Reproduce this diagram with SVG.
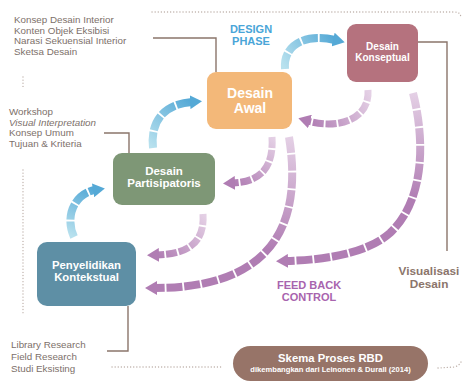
<svg xmlns="http://www.w3.org/2000/svg" width="463" height="381" viewBox="0 0 463 381">
<style>
text{font-family:"Liberation Sans",Arial,sans-serif}
.lst{font-size:9.8px;fill:#7d706a}
.nl{font-weight:bold;fill:#ffffff;text-anchor:middle}
.dot{fill:none;stroke:#bcaea7;stroke-width:1.3;stroke-dasharray:0.1 3;stroke-linecap:round}
.ln{fill:none;stroke:#8b756b;stroke-width:1.4}
.arr{fill:none;stroke-width:8;stroke-dasharray:16 1.8}
.arrt{fill:none;stroke-width:7;stroke-dasharray:11 1.8}
</style>
<defs>
<marker id="hb" viewBox="0 0 12 14" refX="2" refY="7" markerWidth="12" markerHeight="14" markerUnits="userSpaceOnUse" orient="auto"><path d="M0,0 L12,7 L0,14 Z" fill="#55a9d6"/></marker>
<marker id="hp" viewBox="0 0 12 14" refX="2" refY="7" markerWidth="12" markerHeight="14" markerUnits="userSpaceOnUse" orient="auto"><path d="M0,0 L12,7 L0,14 Z" fill="#b07db3"/></marker>
<linearGradient id="gb1" gradientUnits="userSpaceOnUse" x1="74" y1="237" x2="95" y2="190"><stop offset="0" stop-color="#b8e1ee"/><stop offset="1" stop-color="#55a9d6"/></linearGradient>
<linearGradient id="gb2" gradientUnits="userSpaceOnUse" x1="153" y1="148" x2="192" y2="102"><stop offset="0" stop-color="#b8e1ee"/><stop offset="1" stop-color="#55a9d6"/></linearGradient>
<linearGradient id="gb3" gradientUnits="userSpaceOnUse" x1="285" y1="69" x2="335" y2="40"><stop offset="0" stop-color="#b8e1ee"/><stop offset="1" stop-color="#55a9d6"/></linearGradient>
<linearGradient id="gpa" gradientUnits="userSpaceOnUse" x1="368" y1="90" x2="308" y2="121"><stop offset="0" stop-color="#e4d0e5"/><stop offset="1" stop-color="#b07db3"/></linearGradient>
<linearGradient id="gpb" gradientUnits="userSpaceOnUse" x1="272" y1="137" x2="233" y2="183"><stop offset="0" stop-color="#e4d0e5"/><stop offset="1" stop-color="#b07db3"/></linearGradient>
<linearGradient id="gpc" gradientUnits="userSpaceOnUse" x1="203" y1="214" x2="157" y2="255"><stop offset="0" stop-color="#e4d0e5"/><stop offset="1" stop-color="#b07db3"/></linearGradient>
<linearGradient id="gpd" gradientUnits="userSpaceOnUse" x1="289" y1="137" x2="270" y2="250"><stop offset="0" stop-color="#e4d0e5"/><stop offset="1" stop-color="#b07db3"/></linearGradient>
<linearGradient id="gpe" gradientUnits="userSpaceOnUse" x1="413" y1="93" x2="415" y2="200"><stop offset="0" stop-color="#e4d0e5"/><stop offset="1" stop-color="#b07db3"/></linearGradient>
</defs>
<rect width="463" height="381" fill="#ffffff"/>
<g id="frame">
<path class="dot" d="M152,12 L455,12 Q460,12 461,17"/>
<path class="dot" d="M112,367 L223,367"/>
<path class="dot" d="M438,368 L454,367 Q459,366 461,362"/>
<path class="dot" d="M23,77 L23,88"/>
<path class="dot" d="M23,170 L23,313"/>
</g>
<g id="connectors">
<path class="ln" d="M153,38 L216,38 L216,72"/>
<path class="ln" d="M104,133 L129,133 L129,153"/>
<path class="ln" d="M128,306 L128,351 L107,351"/>
<path class="ln" d="M418,42 L447,42 L447,251"/>
<path class="arr" stroke="url(#gb1)" marker-end="url(#hb)" d="M74,237 C64,215 76,193 95,190"/>
<path class="arr" stroke="url(#gb2)" marker-end="url(#hb)" d="M153,148 C150,120 165,104 192,102"/>
<path class="arr" stroke="url(#gb3)" marker-end="url(#hb)" d="M285,69 C283,45 305,33 335,40"/>
<path class="arrt" stroke="url(#gpa)" marker-end="url(#hp)" d="M368,90 C370,118 340,130 308,121"/>
<path class="arrt" stroke="url(#gpb)" marker-end="url(#hp)" d="M272,137 C274,170 258,182 233,183"/>
<path class="arrt" stroke="url(#gpc)" marker-end="url(#hp)" d="M203,214 C205,245 185,254 157,255"/>
<path class="arr" stroke="url(#gpd)" marker-end="url(#hp)" d="M289,137 C296,180 295,235 250,265 C225,282 190,288 155,288"/>
<path class="arr" stroke="url(#gpe)" marker-end="url(#hp)" d="M413,93 C425,140 425,200 390,233 C365,255 320,260 286,261"/>
</g>
<g id="desain-awal">
<rect x="207" y="72" width="85" height="57" rx="9" fill="#f3b879"/>
<text class="nl" x="250" y="98" font-size="14">Desain</text>
<text class="nl" x="250" y="113" font-size="14">Awal</text>
</g>
<g id="desain-konseptual">
<rect x="347" y="24" width="71" height="58" rx="9" fill="#b5727e"/>
<text class="nl" x="382.5" y="50" font-size="10">Desain</text>
<text class="nl" x="382.5" y="61" font-size="10">Konseptual</text>
</g>
<g id="desain-partisipatoris">
<rect x="113" y="153" width="102" height="52" rx="9" fill="#7e9776"/>
<text class="nl" x="164" y="175" font-size="11.5">Desain</text>
<text class="nl" x="164" y="187" font-size="11.5">Partisipatoris</text>
</g>
<g id="penyelidikan-kontekstual">
<rect x="37" y="242" width="99" height="64" rx="10" fill="#5e8fa5"/>
<text class="nl" x="86.5" y="269" font-size="11.3">Penyelidikan</text>
<text class="nl" x="86.5" y="281" font-size="11.3">Kontekstual</text>
</g>
<g id="labels">
<text class="lst" x="14" y="23">Konsep Desain Interior</text>
<text class="lst" x="14" y="33.5">Konten Objek Eksibisi</text>
<text class="lst" x="14" y="44">Narasi Sekuensial Interior</text>
<text class="lst" x="14" y="54.5">Sketsa Desain</text>
<text class="lst" x="9" y="115">Workshop</text>
<text class="lst" x="9" y="125.5" font-style="italic">Visual Interpretation</text>
<text class="lst" x="9" y="136">Konsep Umum</text>
<text class="lst" x="9" y="146.5">Tujuan &amp; Kriteria</text>
<text class="lst" x="11" y="348" font-size="10">Library Research</text>
<text class="lst" x="11" y="360" font-size="10">Field Research</text>
<text class="lst" x="11" y="372" font-size="10">Studi Eksisting</text>
<text x="251" y="33" font-size="11" font-weight="bold" fill="#4aa5d8" text-anchor="middle">DESIGN</text>
<text x="251" y="45" font-size="11" font-weight="bold" fill="#4aa5d8" text-anchor="middle">PHASE</text>
<text x="309" y="289" font-size="11" font-weight="bold" fill="#a864ae" text-anchor="middle">FEED BACK</text>
<text x="309" y="301" font-size="11" font-weight="bold" fill="#a864ae" text-anchor="middle">CONTROL</text>
<text x="429" y="275" font-size="11.8" font-weight="bold" fill="#8b756b" text-anchor="middle">Visualisasi</text>
<text x="429" y="288" font-size="11.8" font-weight="bold" fill="#8b756b" text-anchor="middle">Desain</text>
</g>
<g id="skema">
<rect x="233" y="346" width="195" height="35" rx="17.5" fill="#977468"/>
<text x="330.5" y="362" font-size="11.3" font-weight="bold" fill="#ffffff" text-anchor="middle">Skema Proses RBD</text>
<text x="330.5" y="372" font-size="7.6" font-weight="bold" fill="#ffffff" text-anchor="middle">dikembangkan dari Leinonen &amp; Durall (2014)</text>
</g>
</svg>
